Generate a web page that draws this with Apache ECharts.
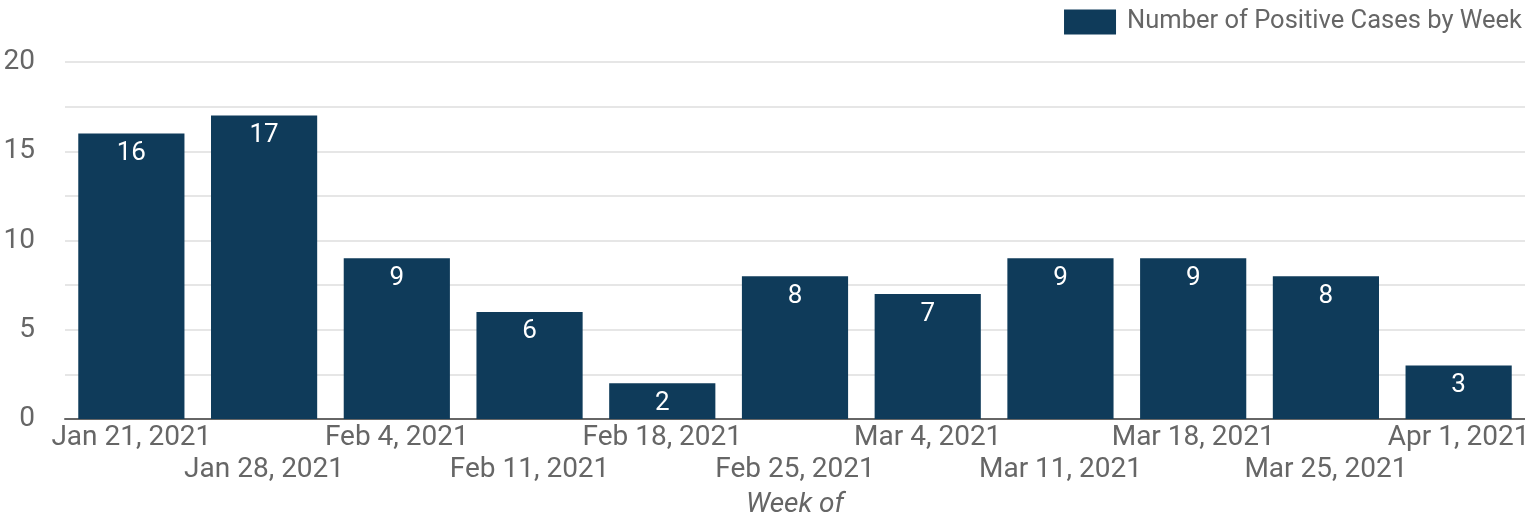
<!DOCTYPE html>
<html style="height: 100%; overflow: hidden">
<head>
    <meta charset="utf-8">
    <title>Number of Positive Cases by Week</title>
</head>
<body style="height: 100%; margin: 0; overflow: hidden">
<div id="container" style="width: 100%; height: 100%"></div>
<script src="https://cdn.jsdelivr.net/npm/echarts@6/dist/echarts.min.js"></script>
<script>
    // data
    var weeks = ['Jan 21, 2021', 'Jan 28, 2021', 'Feb 4, 2021', 'Feb 11, 2021', 'Feb 18, 2021',
        'Feb 25, 2021', 'Mar 4, 2021', 'Mar 11, 2021', 'Mar 18, 2021', 'Mar 25, 2021', 'Apr 1, 2021'];
    var cases = [16, 17, 9, 6, 2, 8, 7, 9, 9, 8, 3];
    var seriesName = 'Number of Positive Cases by Week';
    var xTitle = 'Week of';

    var textColor = '#666666';
    var barColor = '#0f3b5a';

    var chart = echarts.init(document.getElementById('container'), null, {renderer: 'canvas'});

    chart.setOption({
        animation: false,
        textStyle: {fontFamily: 'Roboto'},
        legend: {
            top: 4,
            right: -2,
            itemWidth: 52,
            itemHeight: 25,
            icon: 'rect',
            textStyle: {color: textColor, fontSize: 25.5, fontFamily: 'Roboto', padding: [0, 0, 0, 6]},
            data: [seriesName]
        },
        grid: {left: 65, right: 0, top: 62, bottom: 94, containLabel: false, outerBoundsMode: 'none'},
        xAxis: {
            type: 'category',
            data: weeks,
            name: xTitle,
            nameLocation: 'middle',
            nameGap: 66,
            nameTextStyle: {color: textColor, fontSize: 28, fontStyle: 'italic', fontFamily: 'Roboto'},
            axisLine: {lineStyle: {color: '#666666', width: 2}},
            axisTick: {show: false},
            axisLabel: {
                interval: 0,
                color: textColor,
                fontSize: 28,
                margin: 3,
                lineHeight: 32,
                hideOverlap: false,
                formatter: function (v, i) {
                    return i % 2 === 1 ? '\n' + v : v;
                }
            }
        },
        yAxis: {
            type: 'value',
            min: 0,
            max: 20,
            interval: 2.5,
            axisLine: {show: false},
            axisTick: {show: false},
            splitLine: {lineStyle: {color: '#e6e6e6', width: 2}},
            axisLabel: {
                color: textColor,
                fontSize: 28,
                margin: 30,
                formatter: function (v) {
                    return v % 5 === 0 ? String(v) : '';
                }
            }
        },
        series: [{
            name: seriesName,
            type: 'bar',
            data: cases,
            barCategoryGap: '20%',
            itemStyle: {color: barColor},
            label: {
                show: true,
                position: 'insideTop',
                distance: 7,
                color: '#ffffff',
                fontSize: 26,
                fontFamily: 'Roboto'
            }
        }]
    });

    window.addEventListener('resize', chart.resize);
</script>
</body>
</html>
